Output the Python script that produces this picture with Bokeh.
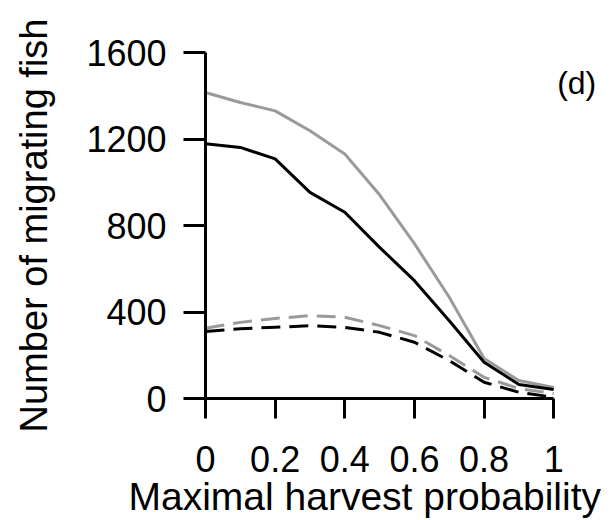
from bokeh.plotting import figure
from bokeh.models import FixedTicker, Label, Range1d, Title
from bokeh.embed import file_html
from bokeh.resources import INLINE

# Data
harvest = [0.0, 0.1, 0.2, 0.3, 0.4, 0.5, 0.6, 0.7, 0.8, 0.9, 1.0]
gray_solid = [1415, 1369, 1330, 1238, 1131, 942, 716, 468, 185, 83, 51]
black_solid = [1178, 1161, 1108, 953, 861, 699, 545, 360, 168, 65, 42]
gray_dashed = [325, 352, 370, 383, 376, 337, 291, 199, 98, 46, 23]
black_dashed = [310, 323, 329, 337, 329, 306, 260, 175, 75, 29, 6]

x_ticks = [0, 0.2, 0.4, 0.6, 0.8, 1]
x_tick_labels = ["0", "0.2", "0.4", "0.6", "0.8", "1"]
y_ticks = [0, 400, 800, 1200, 1600]
y_tick_labels = ["0", "400", "800", "1200", "1600"]

FONT = "Liberation Sans"
GRAY = "#9a9a9a"

p = figure(width=614, height=520, output_backend="svg", toolbar_location=None,
           x_range=Range1d(0, 1.12), y_range=Range1d(0, 1600),
           min_border_left=205, min_border_right=19, min_border_top=52,
           min_border_bottom=122)
p.outline_line_color = None
p.grid.visible = False
p.background_fill_color = "white"
p.border_fill_color = "white"

common = dict(line_width=3, line_join="round")
p.line(harvest, gray_solid, line_color=GRAY, **common)
p.line(harvest, black_solid, line_color="black", **common)
p.line(harvest, gray_dashed, line_color=GRAY, line_dash="19 9", **common)
p.line(harvest, black_dashed, line_color="black", line_dash="19 9", **common)

for ax in (p.xaxis[0], p.yaxis[0]):
    ax.axis_line_width = 3
    ax.axis_line_color = "black"
    ax.major_tick_line_width = 3
    ax.major_tick_line_color = "black"
    ax.major_tick_in = 0
    ax.minor_tick_line_color = None
    ax.major_label_text_font = FONT
    ax.major_label_text_font_size = "36px"
    ax.major_label_text_color = "black"

xa = p.xaxis[0]
xa.bounds = (0, 1)
xa.ticker = FixedTicker(ticks=x_ticks)
xa.major_label_overrides = {t: l for t, l in zip(x_ticks, x_tick_labels)}
xa.major_tick_out = 20
xa.major_label_standoff = 27

ya = p.yaxis[0]
ya.bounds = (0, 1600)
ya.ticker = FixedTicker(ticks=y_ticks)
ya.major_label_overrides = {t: l for t, l in zip(y_ticks, y_tick_labels)}
ya.major_tick_out = 22
ya.major_label_standoff = 17
ya.axis_label = "Number of migrating fish"
ya.axis_label_text_font = FONT
ya.axis_label_text_font_size = "38px"
ya.axis_label_text_font_style = "normal"
ya.axis_label_text_color = "black"
ya.axis_label_standoff = 28

p.add_layout(Title(text="Maximal harvest probability", align="left", offset=-77,
                   text_font=FONT, text_font_size="39px", text_color="black",
                   text_font_style="normal", standoff=-3), "below")
p.add_layout(Label(x=1.066, y=1461, text="(d)",
                   text_font=FONT, text_font_size="32px", text_color="black",
                   text_align="center", text_baseline="alphabetic"))

open("out.html", "w").write(file_html(p, INLINE))
